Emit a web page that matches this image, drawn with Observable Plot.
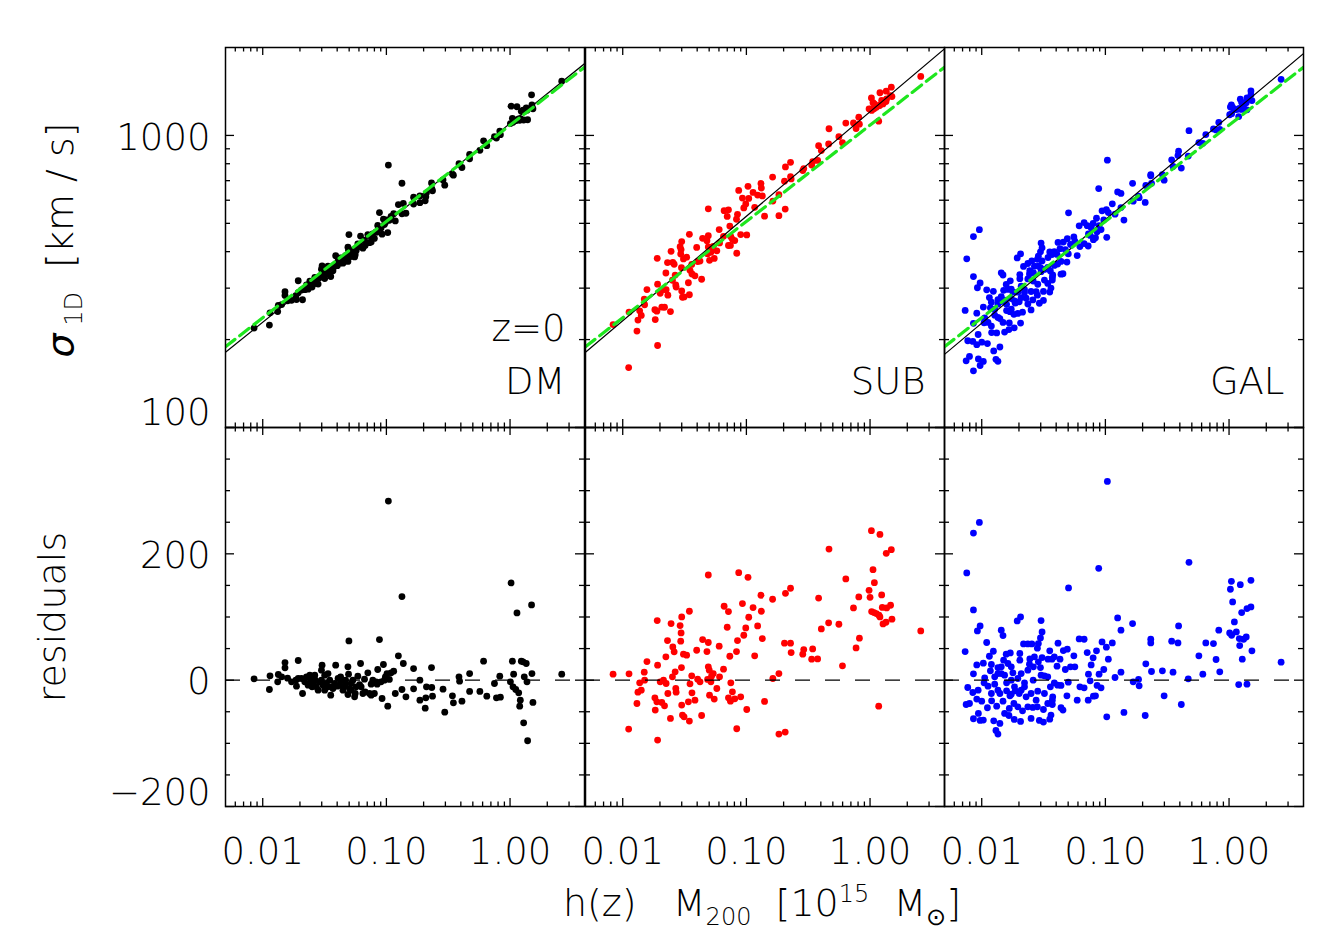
<!DOCTYPE html>
<html><head><meta charset="utf-8">
<script src="https://cdn.jsdelivr.net/npm/d3@7"></script>
<script src="https://cdn.jsdelivr.net/npm/@observablehq/plot@0.6"></script>
<style>
body{margin:0;background:#fff;}
#chart{position:relative;width:1329px;height:949px;font-family:"DejaVu Sans",sans-serif;font-weight:200;color:#000;overflow:hidden;}
#chart svg{overflow:visible;}
.ttl{position:absolute;white-space:nowrap;font-size:38px;line-height:1;}
.ttl sub,.ttl sup{font-size:24px;line-height:0;}
</style></head><body><div id="chart"></div>
<script>
// ---------------- data ----------------
// log10( h(z) M200 / 1e15 Msun ) and residual sigma_1D - sigma_ref (km/s)
const dmLog10Mass = [-2.070,-1.941,-1.946,-1.879,-1.874,-1.820,-1.820,-1.799,-1.847,-1.732,-1.727,-1.713,-1.713,-1.678,-1.660,-1.646,-1.633,-1.611,-1.592,-1.579,
-1.574,-1.566,-1.544,-1.525,-1.520,-1.512,-1.499,-1.485,-1.472,-1.458,-1.450,-1.445,-1.432,-1.410,-1.391,-1.378,-1.365,-1.343,-1.330,-1.311,
-1.306,-1.303,-1.311,-1.298,-1.284,-1.257,-1.252,-1.231,-1.217,-1.209,-1.177,-1.172,-1.150,-1.137,-1.123,-1.123,-1.097,-1.075,-1.070,-1.056,
-1.043,-1.035,-1.024,-1.008,-0.989,-0.984,-0.976,-0.962,-0.941,-0.928,-0.903,-0.874,-0.874,-0.863,-0.842,-0.780,-0.780,-0.729,-0.729,-0.686,
-0.681,-0.676,-0.635,-0.633,-0.627,-0.542,-0.528,-0.466,-0.458,-0.413,-0.408,-0.389,-0.327,-0.327,-0.244,-0.214,-0.188,-0.126,-0.110,-0.083,
-0.078,0.003,0.008,0.019,0.024,0.029,0.046,0.056,0.070,0.078,0.083,0.091,0.105,0.110,0.115,0.131,0.137,0.142,0.174,0.177,
0.185,0.418,-1.767,-1.686,-1.619,-1.601,-1.552,-1.525,-1.499,-1.472,-1.418,-1.397,-1.370,-1.351,-1.332,-1.284,-1.271,-1.244,-1.204,-1.190,
-1.110,-1.083,-1.016,-0.995];
const dmResidual = [2.1,6.9,-14.8,-2.6,9.0,27.9,19.5,3.2,5.3,0,-9.5,31.1,2.6,-21.1,-2.6,5.3,-7.9,0,-5.3,7.9,
0,-10.5,-2.6,15.8,23.7,-7.9,-15.8,-5.3,10.5,0,-23.7,-10.5,-13.2,23.7,2.6,-7.9,0,-10.5,0,21.1,
9.5,62.2,-22.7,-13.2,-15.8,-26.4,-21.1,6.3,-6.9,26.4,1.6,-18.4,11.6,-21.1,-6.3,-23.7,-21.1,-6.3,16.9,64.3,
-2.6,-29.0,24.8,5.3,-41.1,283.5,1.1,11.6,14.2,-21.1,38.5,132.3,-14.8,26.4,-26.4,18.4,-13.7,0,-31.6,-44.3,
-27.9,-10.5,20.0,-11.6,-25.3,-14.2,-50.6,-24.8,-35.8,5.3,-1.6,-33.2,10.5,-17.9,-17.9,30.0,-25.3,-5.3,-27.9,6.3,
-26.9,-2.6,153.9,30.0,-10.5,9.5,-14.8,106.5,-20.0,-41.1,-31.6,30.0,29.0,-67.5,5.3,26.4,-2.6,-95.9,119.1,10.5,
-35.3,9.5,-2.6,2.6,7.9,-10.5,-15.8,0,7.9,-10.5,-5.3,-9.5,5.3,-15.8,-6.3,-5.3,0,-10.5,-10.5,-21.1,
0,-2.6,0,10.5];

const subLog10Mass = [-2.078,-1.949,-1.952,-1.885,-1.877,-1.863,-1.850,-1.826,-1.823,-1.804,-1.740,-1.737,-1.721,-1.718,-1.718,-1.724,-1.697,-1.684,-1.670,-1.662,
-1.651,-1.649,-1.638,-1.635,-1.614,-1.609,-1.598,-1.595,-1.584,-1.576,-1.571,-1.568,-1.536,-1.531,-1.528,-1.525,-1.523,-1.523,-1.517,-1.509,
-1.504,-1.483,-1.469,-1.461,-1.461,-1.456,-1.442,-1.440,-1.416,-1.402,-1.394,-1.375,-1.362,-1.354,-1.319,-1.314,-1.308,-1.308,-1.308,-1.300,
-1.298,-1.287,-1.282,-1.268,-1.260,-1.239,-1.220,-1.217,-1.185,-1.180,-1.155,-1.145,-1.145,-1.134,-1.129,-1.126,-1.113,-1.094,-1.080,-1.078,
-1.072,-1.062,-1.046,-1.032,-1.021,-1.005,-0.997,-0.987,-0.981,-0.946,-0.933,-0.909,-0.882,-0.879,-0.871,-0.853,-0.788,-0.786,-0.737,-0.737,
-0.692,-0.686,-0.684,-0.643,-0.643,-0.638,-0.544,-0.536,-0.472,-0.464,-0.424,-0.416,-0.394,-0.335,-0.332,-0.252,-0.223,-0.196,-0.134,-0.113,
-0.091,-0.086,-0.008,0.000,0.011,0.013,0.024,0.032,0.035,0.051,0.070,0.072,0.080,0.080,0.094,0.099,0.105,0.129,0.131,0.134,
0.166,0.172,0.177,0.410];
const subResidual = [9.5,10.0,-77.5,-36.9,-19.0,-4.2,-15.8,12.6,0,29.5,-27.9,-47.4,94.3,23.7,-94.9,-34.3,-2.6,-35.3,0,-40.6,
36.9,-5.3,62.7,-21.1,-60.6,89.6,5.3,52.7,44.8,13.2,-13.2,-19.0,86.4,61.7,74.8,20.0,100.1,-39.5,-55.3,41.1,
-58.0,39.5,-34.3,109.1,-64.8,-5.8,6.9,-20.0,-31.6,47.4,1.6,-2.6,-55.9,64.3,45.3,1.1,59.6,166.5,21.1,15.8,
-23.7,-2.6,6.3,10.5,-30.0,-13.2,53.8,5.3,17.4,117.0,83.8,108.6,-27.9,37.9,-33.2,-4.2,-18.4,-29.5,45.3,-76.9,
62.7,170.2,-26.4,121.2,71.1,82.7,-46.4,162.8,99.6,114.9,38.5,85.9,134.4,109.1,65.9,-33.7,128.1,2.6,10.5,-85.4,
58.5,-82.2,137.5,145.5,58.5,43.7,41.1,48.5,33.2,49.5,33.7,130.0,81.2,90.7,207.6,88.5,22.7,160.2,114.4,51.1,
131.8,66.4,142.3,131.2,236.6,108.6,175.0,107.0,154.3,105.4,-41.1,102.8,230.8,100.1,134.9,115.1,89.1,91.7,200.8,114.4,
118.6,206.6,96.6,78.0];

const galLog10Mass = [-0.984,-2.019,-2.067,-2.121,-1.054,-1.298,-2.067,-1.686,-1.713,-1.520,-0.901,-2.013,-2.035,-1.842,-1.828,-1.512,-0.874,-1.960,-1.662,-1.627,
-1.595,-1.525,-1.542,-1.550,-1.212,-1.172,-1.383,-1.027,-0.992,-0.944,-2.134,-1.906,-1.938,-1.802,-1.769,-1.692,-1.692,-1.611,-1.574,-1.512,
-1.450,-1.464,-1.432,-1.367,-1.340,-1.308,-1.255,-1.147,-1.072,-1.099,-0.976,-2.040,-1.987,-1.922,-1.869,-1.823,-1.788,-1.748,-1.842,-2.067,
-1.976,-1.930,-1.614,-1.582,-1.542,-1.525,-1.391,-1.324,-1.282,-1.247,-1.115,-1.137,-1.051,-1.013,-0.922,-0.874,-1.520,-1.493,-1.584,-1.981,
-1.895,-1.799,-1.708,-1.654,-1.413,-1.386,-1.300,-1.123,-2.113,-2.072,-1.949,-1.869,-1.853,-1.799,-1.761,-1.729,-1.697,-1.654,-1.547,-1.445,
-1.426,-1.359,-1.206,-1.172,-1.067,-1.035,-2.040,-2.000,-2.099,-2.126,-1.954,-1.920,-1.879,-1.828,-1.772,-1.740,-1.777,-1.708,-1.670,-1.627,
-1.587,-1.550,-1.501,-1.429,-1.429,-1.359,-1.343,-1.311,-1.228,-1.139,-1.097,-1.080,-2.067,-2.027,-2.013,-1.987,-1.903,-1.853,-1.885,-1.869,
-1.780,-1.737,-1.686,-1.601,-1.534,-1.501,-1.450,-1.440,-0.989,-0.850,
-1.869,-1.815,-1.761,-1.735,-1.681,-1.641,-1.601,-1.560,-1.493,-1.466,-1.815,-1.922,-2.029,-1.895,-1.842,-1.761,-1.627,-1.681,-1.466,-1.413,
-0.324,-0.780,-0.678,-0.775,-0.732,-0.727,-0.673,-0.633,-0.633,-0.627,-0.539,-0.525,-0.464,-0.453,-0.413,-0.408,-0.386,-0.330,-0.244,-0.212,
-0.188,-0.126,-0.105,-0.083,-0.075,0.005,0.011,0.019,0.021,0.029,0.043,0.059,0.078,0.083,0.086,0.091,0.102,0.107,0.118,0.139,
0.145,0.145,0.177,0.177,0.185,0.421];
const galResidual = [314.6,249.8,232.9,169.7,177.1,146.0,111.2,100.1,93.8,94.3,98.5,85.9,78.0,79.1,70.6,76.4,79.1,59.6,57.4,57.4,
57.4,66.9,58.0,50.6,65.3,64.8,58.5,60.6,52.2,59.0,45.3,45.8,37.9,41.1,43.2,42.2,31.6,33.7,36.9,35.8,
46.4,33.2,33.2,33.2,46.9,49.0,38.5,43.7,46.4,35.3,33.2,24.2,26.9,24.8,20.0,31.6,26.4,11.6,10.5,10.0,
3.7,14.8,25.3,21.1,29.0,20.0,22.1,16.9,21.1,21.1,24.2,9.5,9.5,16.9,4.2,12.6,7.9,6.9,0,-4.2,
-6.3,-4.2,2.6,-4.2,-4.2,-7.9,-3.2,-1.1,-11.6,-19.5,-9.5,-15.8,-21.1,-16.9,-22.1,-16.9,-21.1,-10.5,-17.4,-10.5,
-26.4,-8.4,-10.5,-12.1,-8.4,-12.1,-30.0,-33.2,-36.9,-38.5,-43.7,-32.7,-41.1,-33.2,-24.8,-36.9,-44.8,-42.2,-48.5,-42.2,
-43.2,-42.2,-46.4,-31.6,-38.5,-43.7,-47.4,-24.8,-31.6,-31.6,-25.3,-24.8,-61.1,-52.7,-63.8,-63.2,-64.3,-68.5,-79.6,-85.4,
-55.9,-62.2,-65.3,-60.6,-63.8,-66.4,-61.7,-55.3,-58.0,-51.1,
10.5,7.9,0,-10.5,-15.8,-26.4,-21.1,-31.6,-21.1,-36.9,-52.7,-21.1,-15.8,5.3,21.1,21.1,15.8,10.5,5.3,36.9,
186.6,89.6,-55.9,-2.6,1.1,-9.0,25.8,64.8,59.0,13.7,14.8,-24.8,61.7,12.6,59.0,85.9,-38.5,2.1,38.5,9.5,
59.0,58.0,32.7,79.1,13.2,74.8,143.9,156.5,71.1,123.8,92.2,76.4,-6.9,65.9,54.8,151.2,107.0,33.2,64.8,68.5,
113.3,-6.3,158.1,115.9,46.4,28.5];

// fitted relations, given by their end points [mass, sigma] (straight in log-log)
const massRange = [0.005, 4];
const evrardSigma = [189, 1712];          // green dashed: Evrard et al. 2008 DM relation
const dmFitSigma = [181, 1760];           // black: DM best fit (also the residual reference)
const subFitSigma = [181, 1980];          // black: SUB best fit
const galFitSigma = [178, 1905];          // black: GAL best fit

// axis ticks
const xMajor = [0.01, 0.1, 1];
const xMinor = [0.006,0.007,0.008,0.009,0.02,0.03,0.04,0.05,0.06,0.07,0.08,0.09,0.2,0.3,0.4,0.5,0.6,0.7,0.8,0.9,2,3];
const sigmaMajor = [100, 1000];
const sigmaMinor = [200,300,400,500,600,700,800,900];
const residMajor = [-200, 0, 200, 400];
const residMinor = [-150,-100,-50,50,100,150,250,300,350];
const residDomain = [-200, 400];
const sigmaDomain = [100, 2000];

// ---------------- build tables ----------------
function relation(ends) {
  const l0 = Math.log10(massRange[0]), l1 = Math.log10(massRange[1]);
  const s0 = Math.log10(ends[0]), s1 = Math.log10(ends[1]);
  return m => 10 ** (s0 + (Math.log10(m) - l0) / (l1 - l0) * (s1 - s0));
}
const sigmaRef = relation(dmFitSigma);
function table(logM, res) {
  return logM.map((lm, i) => {
    const m = 10 ** lm;
    return {m, res: res[i], sigma: sigmaRef(m) + res[i]};
  });
}
const samples = [
  {name: "DM", color: "#000000", data: table(dmLog10Mass, dmResidual), fit: dmFitSigma},
  {name: "SUB", color: "#ff0000", data: table(subLog10Mass, subResidual), fit: subFitSigma},
  {name: "GAL", color: "#0000ff", data: table(galLog10Mass, galResidual), fit: galFitSigma}
];
const lineData = ends => massRange.map((m, i) => ({m, s: ends[i]}));

// ---------------- layout ----------------
const chart = document.getElementById("chart");
const colLeft = [225, 585, 944], colW = 359;
const rowTop = [47, 427], rowH = [380, 379];
const FONT = "'DejaVu Sans', sans-serif";
const FS = 37;

function ticks(w, h, yMaj, yMin) {
  const st = {stroke: "#000", strokeWidth: 1.3};
  return [
    Plot.ruleX(xMajor, {...st, insetTop: h - 8}),
    Plot.ruleX(xMajor, {...st, insetBottom: h - 8}),
    Plot.ruleX(xMinor, {...st, insetTop: h - 4.5}),
    Plot.ruleX(xMinor, {...st, insetBottom: h - 4.5}),
    Plot.ruleY(yMaj, {...st, insetRight: w - 9}),
    Plot.ruleY(yMaj, {...st, insetLeft: w - 9}),
    Plot.ruleY(yMin, {...st, insetRight: w - 5}),
    Plot.ruleY(yMin, {...st, insetLeft: w - 5})
  ];
}

function place(svg, left, top) {
  svg.style.position = "absolute";
  svg.style.left = left + "px";
  svg.style.top = top + "px";
  chart.append(svg);
}

const textStyle = {fontSize: FS, fontWeight: 200, fill: "#000"};

samples.forEach((s, c) => {
  const w = colW, h0 = rowH[0], h1 = rowH[1];
  // top panel: sigma vs mass
  const topMarks = [
    Plot.dot(s.data, {x: "m", y: "sigma", r: 3.4, fill: s.color, stroke: "none"}),
    Plot.line(lineData(s.fit), {x: "m", y: "s", stroke: "#000", strokeWidth: 1.2, clip: true}),
    Plot.line(lineData(evrardSigma), {x: "m", y: "s", stroke: "#1ee61e", strokeWidth: 3.2, strokeDasharray: "12,6", clip: true}),
    ...ticks(w, h0, sigmaMajor, sigmaMinor),
    Plot.frame({stroke: "#000", strokeWidth: 1.5}),
    Plot.text([s.name], {frameAnchor: "bottom-right", dx: -19, dy: -34, textAnchor: "end", lineAnchor: "bottom", ...textStyle})
  ];
  if (c === 0) {
    topMarks.push(Plot.text(["z=0"], {frameAnchor: "bottom-right", dx: -19, dy: -87, textAnchor: "end", lineAnchor: "bottom", ...textStyle}));
    topMarks.push(Plot.text([1000], {y: d => d, text: d => String(d), frameAnchor: "left", dx: -15, dy: 3, textAnchor: "end", lineAnchor: "middle", ...textStyle}));
    topMarks.push(Plot.text([100], {y: d => d, text: d => String(d), frameAnchor: "left", dx: -15, dy: -14, textAnchor: "end", lineAnchor: "middle", ...textStyle}));
  }
  const top = Plot.plot({
    width: w, height: h0, margin: 0,
    x: {type: "log", domain: massRange, axis: null},
    y: {type: "log", domain: sigmaDomain, axis: null},
    style: {overflow: "visible", background: "transparent", fontFamily: FONT},
    marks: topMarks
  });
  place(top, colLeft[c], rowTop[0]);

  // bottom panel: residuals vs mass
  const botMarks = [
    Plot.dot(s.data, {x: "m", y: "res", r: 3.4, fill: s.color, stroke: "none"}),
    Plot.ruleY([0], {stroke: "#000", strokeWidth: 1.4, strokeDasharray: "15,15"}),
    ...ticks(w, h1, residMajor, residMinor),
    Plot.frame({stroke: "#000", strokeWidth: 1.5}),
    Plot.text(xMajor, {x: d => d, text: d => d.toFixed(2), frameAnchor: "bottom", dy: 31, textAnchor: "middle", lineAnchor: "top", ...textStyle})
  ];
  if (c === 0) {
    botMarks.push(Plot.text([200, 0], {y: d => d, text: d => String(d), frameAnchor: "left", dx: -15, dy: 2, textAnchor: "end", lineAnchor: "middle", ...textStyle}));
    botMarks.push(Plot.text([-200], {y: d => d, text: d => "\u2212" + String(-d), frameAnchor: "left", dx: -15, dy: -13, textAnchor: "end", lineAnchor: "middle", ...textStyle}));
  }
  const bot = Plot.plot({
    width: w, height: h1, margin: 0,
    x: {type: "log", domain: massRange, axis: null},
    y: {type: "linear", domain: residDomain, axis: null},
    style: {overflow: "visible", background: "transparent", fontFamily: FONT},
    marks: botMarks
  });
  place(bot, colLeft[c], rowTop[1]);
});

// axis titles
function title(html, cx, cy, rotate) {
  const d = document.createElement("div");
  d.className = "ttl";
  d.innerHTML = html;
  d.style.left = cx + "px";
  d.style.top = cy + "px";
  d.style.transform = "translate(-50%,-50%)" + (rotate ? " rotate(-90deg)" : "");
  chart.append(d);
}
title('h(z)&nbsp;&nbsp; M<sub>200</sub>&nbsp; [10<sup>15</sup>&nbsp; M<sub>\u2299</sub>]', 762, 903, false);
title('<span style="font-weight:400;font-style:italic">\u03c3</span><sub>&nbsp;1D</sub>&nbsp; [km / s]', 60, 240, true);
title('residuals', 52, 617, true);
</script></body></html>
